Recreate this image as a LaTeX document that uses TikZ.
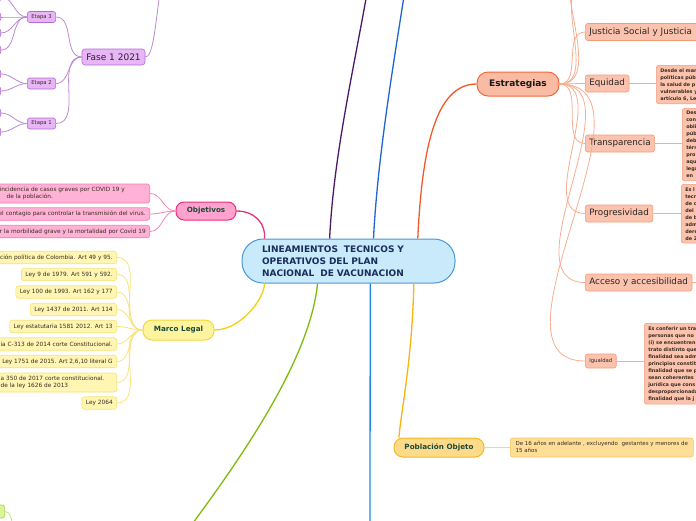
\documentclass[tikz,border=0pt]{standalone}
\usepackage{fontspec}
\setmainfont{DejaVu Sans}
\definecolor{cblue}{HTML}{4A97D8}
\definecolor{cfill}{HTML}{C8EAFB}
\definecolor{cnavy}{HTML}{1B2D5B}
\definecolor{pdark}{HTML}{4B1869}
\definecolor{pline}{HTML}{B98BD0}
\definecolor{pfill}{HTML}{E8B6F6}
\definecolor{pbord}{HTML}{B06FD0}
\definecolor{btop}{HTML}{1F64D0}
\definecolor{bvert}{HTML}{1A8AE0}
\definecolor{orng}{HTML}{F05A28}
\definecolor{estfill}{HTML}{F9BBA3}
\definecolor{estbord}{HTML}{F26A3B}
\definecolor{ofill}{HTML}{FBC3AD}
\definecolor{obord}{HTML}{F49C7A}
\definecolor{oline}{HTML}{F7AD92}
\definecolor{pink}{HTML}{E8307A}
\definecolor{objfill}{HTML}{FFA3CE}
\definecolor{kfill}{HTML}{FFB2D5}
\definecolor{kbord}{HTML}{F47CB2}
\definecolor{kline}{HTML}{F388B8}
\definecolor{yel}{HTML}{F2D20A}
\definecolor{marfill}{HTML}{FFF49E}
\definecolor{marbord}{HTML}{F3D83A}
\definecolor{yfill}{HTML}{FFF6B3}
\definecolor{ybord}{HTML}{F7E27A}
\definecolor{yline}{HTML}{F8E37D}
\definecolor{grn}{HTML}{7CBC0A}
\definecolor{gfill}{HTML}{D8F59A}
\definecolor{gbord}{HTML}{A7D84A}
\definecolor{gline}{HTML}{C1E57A}
\definecolor{gold}{HTML}{F6B50E}
\definecolor{popfill}{HTML}{FEDB8B}
\definecolor{popbord}{HTML}{F6B822}
\definecolor{dfill}{HTML}{FFDF98}
\definecolor{dbord}{HTML}{F8C65E}
\definecolor{dline}{HTML}{FBD48A}
\definecolor{tgreen}{HTML}{1C4A3A}
\definecolor{ttext}{HTML}{3A2A20}
\begin{document}
\begin{tikzpicture}[x=1pt,y=-1pt,
  mainc/.style={draw=cblue, fill=cfill, line width=1pt, rounded corners=21pt,
    minimum width=213pt, minimum height=44pt, text width=173pt, align=left,
    inner sep=0pt, font=\fontsize{9}{12}\selectfont\bfseries, text=cnavy},
  midnode/.style={line width=1pt, rounded corners=8pt, inner sep=0pt,
    font=\fontsize{7.2}{8}\selectfont\bfseries, text=tgreen},
  leaf/.style={line width=0.6pt, rounded corners=2.5pt, inner xsep=4pt, inner ysep=0pt,
    font=\fontsize{5.8}{7}\selectfont, text=ttext, align=left},
  oleaf/.style={leaf, fill=ofill, draw=obord, font=\fontsize{8.8}{10}\selectfont, text=black!85, minimum height=17pt},
  odet/.style={leaf, fill=ofill, draw=obord, anchor=north west, font=\fontsize{4.9}{7}\selectfont\bfseries, text=ttext, inner ysep=3pt},
  kleaf/.style={leaf, fill=kfill, draw=kbord},
  yleaf/.style={leaf, fill=yfill, draw=ybord, minimum height=12.5pt},
  pleaf/.style={leaf, fill=pfill, draw=pbord, minimum height=11pt, font=\fontsize{5.3}{6}\selectfont},
  pstub/.style={leaf, fill=pfill, draw=pbord, minimum height=9pt, minimum width=30pt, anchor=east},
  thick1/.style={line width=1.3pt},
  thin1/.style={line width=0.8pt},
]
\useasboundingbox (0,0) rectangle (696,520);
\clip (0,0) rectangle (696,520);

% ---------------- nodes ----------------
\node[mainc] (c) at (348.5,261) {LINEAMIENTOS\ \ TECNICOS Y\\OPERATIVOS DEL PLAN\\NACIONAL\ \ DE VACUNACION};

% Estrategias branch
\node[midnode, draw=estbord, fill=estfill, minimum width=82pt, minimum height=24pt, rounded corners=11pt,
      font=\fontsize{9}{10}\selectfont\bfseries, text=black!90] (est) at (518,84) {Estrategias};
\coordinate (eu1) at (588,-18);
\coordinate (eu2) at (588,-45);
\node[oleaf, anchor=west, text width=122pt] (jus) at (585,32) {Justicia Social y Justicia};
\node[oleaf, anchor=west] (equ) at (585,83.5) {Equidad};
\node[oleaf, anchor=west] (tra) at (585,143.5) {Transparencia};
\node[oleaf, anchor=west] (pro) at (585,213.5) {Progresividad};
\node[oleaf, anchor=west] (acc) at (585,282.5) {Acceso y accesibilidad};
\node[oleaf, anchor=west, minimum height=14pt, font=\fontsize{5.3}{6}\selectfont] (igu) at (585,361) {Igualdad};
\coordinate (accr) at (720,282.5);

\node[odet, text width=70pt, minimum height=37pt] (equd) at (656,65) {Desde el mar\\pol\'iticas p\'ubl\\la salud de p\\vulnerables y\\art\'iculo 6, Le};
\node[odet, text width=40pt, minimum height=70pt] (trad) at (682,108) {Des\\con\\obli\\p\'ubl\\deb\\t\'erm\\pro\\aqu\\lega\\en};
\node[odet, text width=40pt, minimum height=58pt] (prod) at (681,184) {Es l\\tecn\\de c\\del\\de b\\adm\\dere\\de 2};
\node[odet, text width=80pt, minimum height=77pt] (igud) at (644,323) {Es conferir un tra\\personas que no\\(i) se encuentren\\trato distinto que\\finalidad sea adm\\principios constit\\finalidad que se p\\sean coherentes\\jur\'idica que cons\\desproporcionada\\finalidad que la j};

% Objetivos branch
\node[midnode, draw=pink, fill=objfill, minimum width=60pt, minimum height=18pt] (obj) at (206,211) {Objetivos};
\node[kleaf, anchor=east, text width=192pt, minimum height=19pt] (o1) at (150,193.5)
  {\hspace*{46pt}incidencia de casos graves por COVID 19 y\\\hspace*{53pt}de la poblaci\'on.};
\node[kleaf, anchor=east, text width=192pt, align=right, minimum height=12.5pt] (o2) at (150,214)
  {ir el contagio para controlar la transmisi\'on del virus.};
\node[kleaf, anchor=east, text width=192pt, align=right, minimum height=12.5pt] (o3) at (150,231.5)
  {ucir la morbilidad grave y la mortalidad por Covid 19};

% Marco Legal branch
\node[midnode, draw=marbord, fill=marfill, minimum width=71pt, minimum height=20pt, rounded corners=9pt] (mar) at (178.5,330) {Marco Legal};
\node[yleaf, anchor=east, text width=192pt, align=right] (m1) at (117,257.5) {tituci\'on pol\'itica de Colombia. Art 49 y 95.};
\node[yleaf, anchor=east] (m2) at (117,274.5) {Ley 9 de 1979. Art 591 y 592.};
\node[yleaf, anchor=east] (m3) at (117,292) {Ley 100 de 1993. Art 162 y 177};
\node[yleaf, anchor=east] (m4) at (117,309.5) {Ley 1437 de 2011. Art 114};
\node[yleaf, anchor=east] (m5) at (117,326.5) {Ley estatutaria 1581 2012. Art 13};
\node[yleaf, anchor=east, text width=192pt, align=right] (m6) at (117,344) {encia C-313 de 2014 corte Constitucional.};
\node[yleaf, anchor=east] (m7) at (117,361.5) {Ley 1751 de 2015. Art 2,6,10 literal G};
\node[yleaf, anchor=east, text width=192pt, minimum height=19pt] (m8) at (117,382.5)
  {\hspace*{80pt}a 350 de 2017 corte constitucional.\\\hspace*{80pt}de la ley 1626 de 2013};
\node[yleaf, anchor=east] (m9) at (117,403) {Ley 2064};

% Poblacion branch
\node[midnode, draw=popbord, fill=popfill, minimum width=90pt, minimum height=19pt, rounded corners=9pt] (pop) at (439,447.5) {Poblaci\'on Objeto};
\node[leaf, fill=dfill, draw=dbord, anchor=west, minimum width=183pt, minimum height=19pt, font=\fontsize{5.5}{7.5}\selectfont] (popd) at (510,447.5)
  {\begin{tabular}{@{}l@{}}De 16 a\~nos en adelante , excluyendo\ \ gestantes y menores de\\15 a\~nos\end{tabular}};

% Fase branch
\node[leaf, fill=pfill, draw=pbord, minimum width=63pt, minimum height=16pt, rounded corners=3pt,
      font=\fontsize{9}{10}\selectfont, text=black!85] (fase) at (113.5,57) {Fase 1 2021};
\node[pleaf] (e3) at (41.5,17) {Etapa 3};
\node[pleaf] (e2) at (41.5,83.5) {Etapa 2};
\node[pleaf] (e1) at (41.5,123.5) {Etapa 1};
\node[pstub] (s1) at (1,-3) {};
\node[pstub] (s2) at (1,17) {};
\node[pstub] (s3) at (1,33) {};
\node[pstub] (s4) at (1,50) {};
\node[pstub] (s5) at (1,74) {};
\node[pstub] (s6) at (1,91) {};
\node[pstub] (s7) at (1,113) {};
\node[pstub] (s8) at (1,132) {};
\coordinate (ftop) at (162,-25);

% Green stub
\node[leaf, fill=gfill, draw=gbord, anchor=east, minimum width=30pt, minimum height=13pt] (g1) at (5,511.5) {};
\coordinate (gend) at (13,530);

% top / bottom off-canvas ends
\coordinate (ptop) at (371,-30);
\coordinate (btopend) at (408,-30);
\coordinate (gbot) at (184,535);
\coordinate (bbot) at (370,535);

% ---------------- connectors ----------------
\draw[pdark, thick1] (c.130) .. controls (334,150) and (356,60) .. (ptop);
\draw[btop, thick1] (c.42) .. controls (378,150) and (396,50) .. (btopend);
\draw[orng, thick1] (c.18) .. controls (422,150) and (435,84) .. (est.west);
\draw[pink, thick1] (obj.east) .. controls (255,211) and (266,224) .. (c.165);
\draw[yel, thick1] (mar.east) .. controls (240,330) and (264,300) .. (c.-165);
\draw[grn, thick1] (c.-144) .. controls (310,360) and (240,460) .. (gbot);
\draw[bvert, thick1] (c.-46) -- (bbot);
\draw[gold, thick1] (c.-19) .. controls (412,360) and (402,405) .. (pop.166);

% Estrategias children
\foreach \t in {eu1,eu2,jus,equ,tra,pro,acc,igu}
  \draw[oline, thin1] (est.east) to[out=0,in=180] (\t.west);
\draw[oline, thin1] (equ.east) -- (equ.east -| equd.west);
\draw[oline, thin1] (tra.east) -- (tra.east -| trad.west);
\draw[oline, thin1] (pro.east) -- (pro.east -| prod.west);
\draw[oline, thin1] (acc.east) -- (accr);
\draw[oline, thin1] (igu.east) -- (igu.east -| igud.west);

% Objetivos children
\foreach \t in {o1,o2,o3}
  \draw[kline, thin1] (obj.west) to[out=180,in=0] (\t.east);
% Marco children
\foreach \t in {m1,m2,m3,m4,m5,m6,m7,m8,m9}
  \draw[yline, thin1] (mar.west) to[out=180,in=0] (\t.east);
% Poblacion
\draw[dline, thin1] (pop.east) -- (popd.west);
% Fase
\draw[pline, thin1] (fase.east) .. controls (153,57) and (155,30) .. (ftop);
\foreach \t in {e1,e2,e3}
  \draw[pline, thin1] (fase.west) to[out=180,in=0] (\t.east);
\foreach \t in {s1,s2,s3,s4}
  \draw[pline, thin1] (e3.west) to[out=180,in=0] (\t.east);
\foreach \t in {s5,s6}
  \draw[pline, thin1] (e2.west) to[out=180,in=0] (\t.east);
\foreach \t in {s7,s8}
  \draw[pline, thin1] (e1.west) to[out=180,in=0] (\t.east);
% Green
\draw[gline, thin1] (g1.east) .. controls (10,511.5) and (12,518) .. (gend);
\end{tikzpicture}
\end{document}
